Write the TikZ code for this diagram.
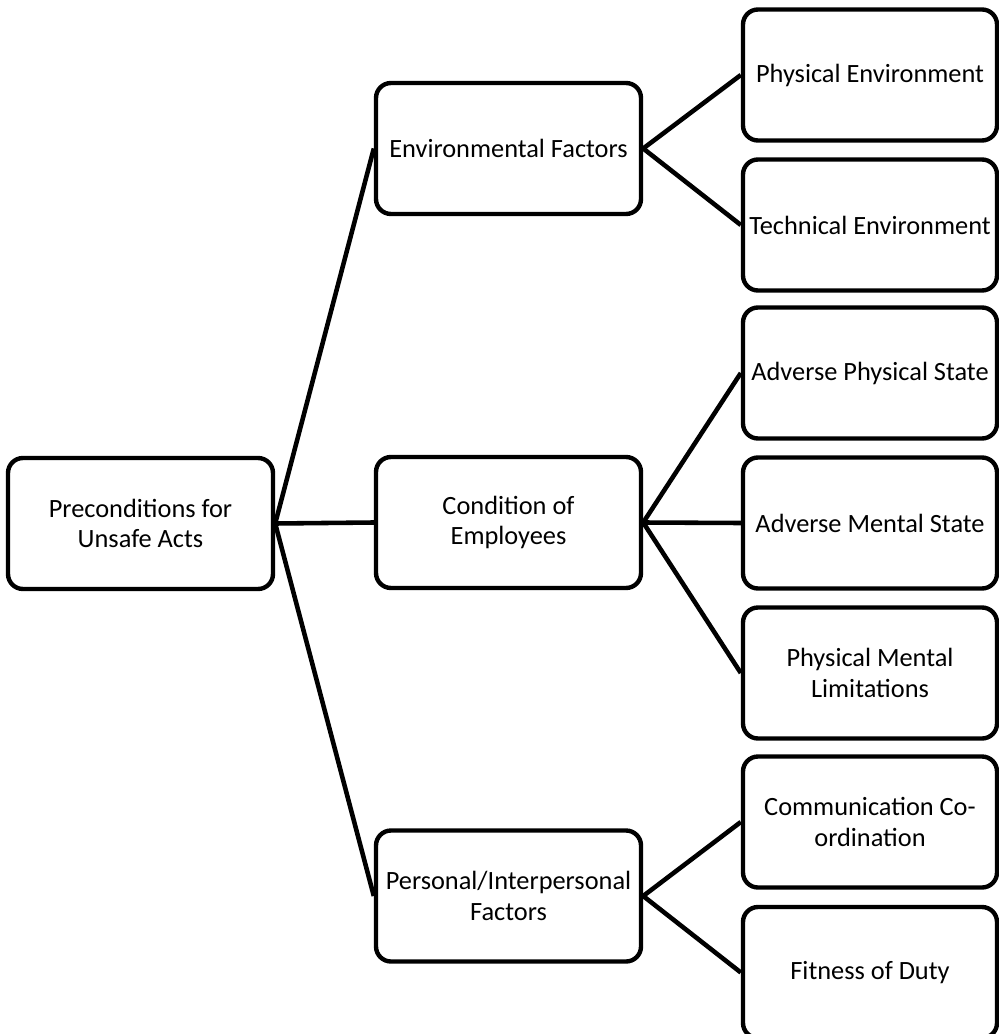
\documentclass[tikz,border=0pt]{standalone}
\usepackage{fontspec}
\setmainfont{Carlito}
\usepackage{tikz}

\tikzset{
    box/.style={draw, line width=2.5pt, rounded corners=0.3cm, align=center,
        minimum width=5.3cm, minimum height=2.62cm, inner sep=1pt, font=\fontsize{15}{17.5}\selectfont},
    leaf/.style={box, minimum width=5.08cm, minimum height=2.62cm},
    link/.style={line width=2.6pt}
}

\begin{document}
\begin{tikzpicture}
    \useasboundingbox (0,0) rectangle (19.96,-20.68);

    \node[box] (pre) at (2.81,-10.47) {Preconditions for\\Unsafe Acts};

    \node[box] (env) at (10.17,-2.97) {Environmental Factors};
    \node[box] (cond) at (10.17,-10.45) {Condition of\\Employees};
    \node[box] (pers) at (10.17,-17.92) {Personal/Interpersonal\\Factors};

    \node[leaf] (phys) at (17.4,-1.5) {Physical Environment};
    \node[leaf] (tech) at (17.4,-4.5) {Technical Environment};
    \node[leaf] (aps) at (17.4,-7.46) {Adverse Physical State};
    \node[leaf] (ams) at (17.4,-10.46) {Adverse Mental State};
    \node[leaf] (pml) at (17.4,-13.46) {Physical Mental\\Limitations};
    \node[leaf] (comm) at (17.4,-16.44) {Communication Co-\\ordination};
    \node[leaf] (fit) at (17.4,-19.45) {Fitness of Duty};

    \draw[link] (pre.east) -- (env.west);
    \draw[link] (pre.east) -- (cond.west);
    \draw[link] (pre.east) -- (pers.west);

    \draw[link] (env.east) -- (phys.west);
    \draw[link] (env.east) -- (tech.west);

    \draw[link] (cond.east) -- (aps.west);
    \draw[link] (cond.east) -- (ams.west);
    \draw[link] (cond.east) -- (pml.west);

    \draw[link] (pers.east) -- (comm.west);
    \draw[link] (pers.east) -- (fit.west);

\end{tikzpicture}
\end{document}
